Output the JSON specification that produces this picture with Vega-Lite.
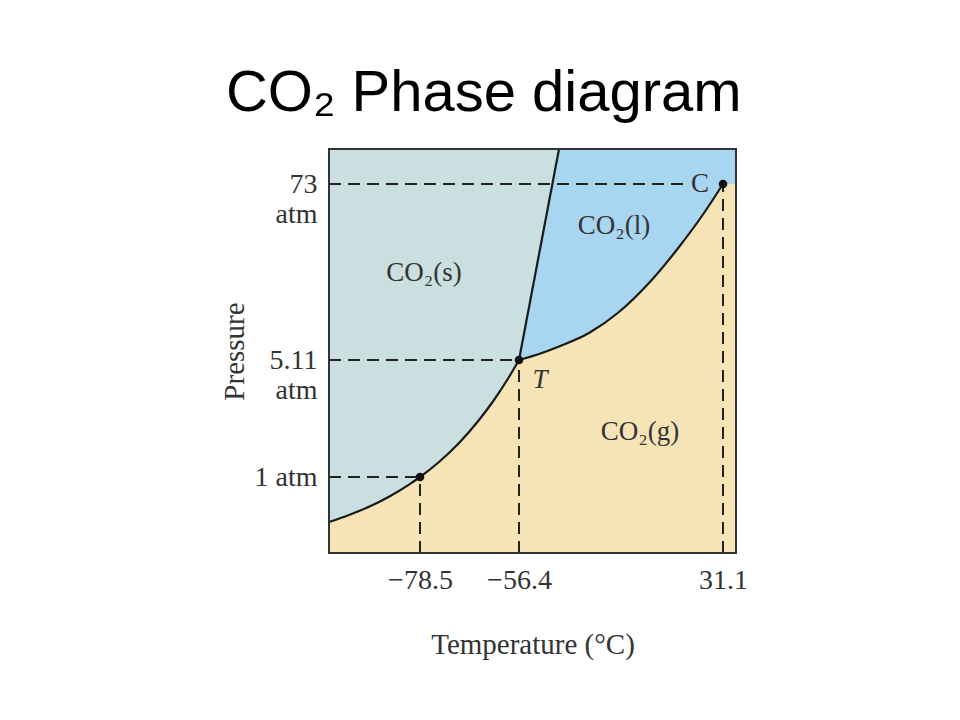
{
  "$schema": "https://vega.github.io/schema/vega-lite/v6.json",
  "width": 407,
  "height": 404,
  "autosize": {"type": "none"},
  "padding": {"left": 329, "top": 149, "right": 224, "bottom": 167},
  "background": "white",
  "title": {
    "text": "CO₂ Phase diagram",
    "font": "Liberation Sans",
    "fontSize": 58,
    "fontWeight": "normal",
    "color": "#000000",
    "anchor": "middle",
    "frame": "bounds",
    "offset": 22
  },
  "config": {"view": {"stroke": null, "fill": "#cadfe0"}},
  "datasets": {
    "liquid": [{"x": 190, "y": 193}, {"x": 230, "y": 404}, {"x": 407, "y": 404}],
    "gas": [
      {"s": "a", "x": 0, "y": 31}, {"s": "a", "x": 20, "y": 38}, {"s": "a", "x": 40, "y": 46.3},
      {"s": "a", "x": 60, "y": 56.3}, {"s": "a", "x": 80, "y": 68.4}, {"s": "a", "x": 91, "y": 76},
      {"s": "a", "x": 110, "y": 91}, {"s": "a", "x": 130, "y": 110}, {"s": "a", "x": 150, "y": 133},
      {"s": "a", "x": 165, "y": 153}, {"s": "a", "x": 180, "y": 176}, {"s": "a", "x": 190, "y": 193},
      {"s": "b", "x": 190, "y": 193}, {"s": "b", "x": 210, "y": 199}, {"s": "b", "x": 230, "y": 206.5},
      {"s": "b", "x": 260, "y": 220}, {"s": "b", "x": 290, "y": 241}, {"s": "b", "x": 320, "y": 270},
      {"s": "b", "x": 350, "y": 306}, {"s": "b", "x": 375, "y": 340}, {"s": "b", "x": 394, "y": 369},
      {"s": "c", "x": 394, "y": 369}, {"s": "c", "x": 407, "y": 369}
    ],
    "melt": [{"x": 190, "y": 193}, {"x": 230, "y": 404}],
    "dashes": [
      {"x": 0, "x2": 91, "y": 76, "y2": 76},
      {"x": 0, "x2": 190, "y": 193, "y2": 193},
      {"x": 0, "x2": 359, "y": 369, "y2": 369},
      {"x": 91, "x2": 91, "y": 0, "y2": 76},
      {"x": 190, "x2": 190, "y": 0, "y2": 193},
      {"x": 394, "x2": 394, "y": 0, "y2": 369}
    ],
    "dots": [{"x": 91, "y": 76}, {"x": 190, "y": 193}, {"x": 394, "y": 369}],
    "labels": [
      {"x": 95, "y": 280, "t": "CO₂(s)"},
      {"x": 285, "y": 327, "t": "CO₂(l)"},
      {"x": 311, "y": 121, "t": "CO₂(g)"},
      {"x": 371, "y": 369, "t": "C"}
    ],
    "letters": [
      {"x": 211, "y": 173, "t": "T"}
    ],
    "frame": [{"x": 0, "x2": 407, "y": 0, "y2": 404}]
  },
  "encoding": {
    "x": {
      "field": "x", "type": "quantitative",
      "scale": {"domain": [0, 407], "nice": false, "zero": false},
      "axis": {
        "values": [91, 190, 394],
        "labelExpr": "datum.value == 91 ? '−78.5' : datum.value == 190 ? '−56.4' : '31.1'",
        "title": "Temperature (°C)",
        "grid": false, "ticks": false, "tickSize": 0, "domain": false,
        "labelFont": "Liberation Serif", "labelFontSize": 28, "labelColor": "#333333",
        "labelPadding": 13, "labelOverlap": false, "labelFlush": false,
        "titleFont": "Liberation Serif", "titleFontSize": 29, "titleFontWeight": "normal",
        "titleColor": "#333333", "titlePadding": 36
      }
    },
    "y": {
      "field": "y", "type": "quantitative", "stack": null,
      "scale": {"domain": [0, 404], "nice": false, "zero": false},
      "axis": {
        "values": [76, 193, 369],
        "labelExpr": "datum.value == 369 ? ['73', 'atm'] : datum.value == 193 ? ['5.11', 'atm'] : '1 atm'",
        "title": "Pressure",
        "grid": false, "ticks": false, "tickSize": 0, "domain": false,
        "labelFont": "Liberation Serif", "labelFontSize": 28, "labelColor": "#333333",
        "labelPadding": 12, "labelLineHeight": 30, "labelBaseline": "middle",
        "labelOverlap": false, "labelFlush": false,
        "titleFont": "Liberation Serif", "titleFontSize": 29, "titleFontWeight": "normal",
        "titleColor": "#333333", "titlePadding": 5
      }
    }
  },
  "layer": [
    {
      "data": {"name": "liquid"},
      "mark": {"type": "area", "color": "#a8d5f0", "interpolate": "linear"}
    },
    {
      "data": {"name": "gas"},
      "mark": {"type": "area", "color": "#f6e4b6", "interpolate": "monotone"},
      "encoding": {"detail": {"field": "s"}}
    },
    {
      "data": {"name": "gas"},
      "transform": [{"filter": "datum.s != 'c'"}],
      "mark": {"type": "line", "color": "#1a1a1a", "strokeWidth": 2.2, "interpolate": "monotone"},
      "encoding": {"detail": {"field": "s"}}
    },
    {
      "data": {"name": "melt"},
      "mark": {"type": "line", "color": "#1a1a1a", "strokeWidth": 2.2},
      "encoding": {}
    },
    {
      "data": {"name": "dashes"},
      "mark": {"type": "rule", "color": "#222222", "strokeWidth": 2, "strokeDash": [12, 7]},
      "encoding": {"x2": {"field": "x2"}, "y2": {"field": "y2"}}
    },
    {
      "data": {"name": "dots"},
      "mark": {"type": "circle", "color": "#111111", "size": 75, "opacity": 1}
    },
    {
      "data": {"name": "labels"},
      "mark": {"type": "text", "font": "Liberation Serif", "fontSize": 27, "color": "#333333", "align": "center", "baseline": "middle"},
      "encoding": {"text": {"field": "t"}}
    },
    {
      "data": {"name": "letters"},
      "mark": {"type": "text", "font": "Liberation Serif", "fontSize": 27, "fontStyle": "italic", "color": "#333333", "align": "center", "baseline": "middle"},
      "encoding": {"text": {"field": "t"}}
    },
    {
      "data": {"name": "frame"},
      "mark": {"type": "rect", "fill": null, "fillOpacity": 0, "stroke": "#333333", "strokeWidth": 2},
      "encoding": {"x2": {"field": "x2"}, "y2": {"field": "y2"}}
    }
  ]
}
